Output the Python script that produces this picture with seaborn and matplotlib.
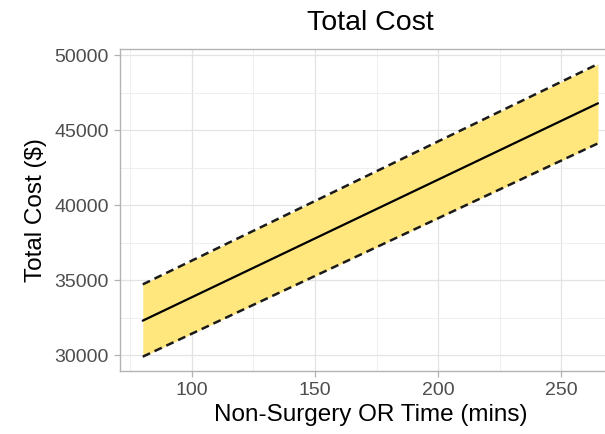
import matplotlib
matplotlib.use("Agg")
import matplotlib.pyplot as plt
from matplotlib.ticker import MultipleLocator
import seaborn as sns
import pandas as pd

# Predicted total cost with its confidence band
or_time = [80, 265]
fit_cost = [32290, 46780]
lower_cost = [29890, 44110]
upper_cost = [34710, 49400]

x_ticks = [100, 150, 200, 250]
y_ticks = [30000, 35000, 40000, 45000, 50000]

df = pd.DataFrame({"time": or_time, "fit": fit_cost,
                   "lower": lower_cost, "upper": upper_cost})

sns.set_theme(style="whitegrid")
plt.rcParams["font.family"] = ["Liberation Sans", "DejaVu Sans"]

fig = plt.figure(figsize=(6.05, 4.34), dpi=100)
ax = fig.add_axes([120 / 605, 62.7 / 434, 500.7 / 605, 321.9 / 434])

ax.fill_between(df["time"], df["lower"], df["upper"],
                color="#FFE77E", linewidth=0, zorder=2)
sns.lineplot(data=df, x="time", y="fit", ax=ax, color="black",
             linewidth=1.6, zorder=4)
for col in ["lower", "upper"]:
    sns.lineplot(data=df, x="time", y=col, ax=ax, color="#1a1a1a",
                 linewidth=1.8, zorder=3)
    ax.lines[-1].set_dashes((3.2, 2.0))

ax.set_xlim(70.75, 274.25)
ax.set_ylim(28915, 50375)
ax.set_xticks(x_ticks)
ax.set_yticks(y_ticks)
ax.xaxis.set_minor_locator(MultipleLocator(25))
ax.yaxis.set_minor_locator(MultipleLocator(2500))

ax.set_facecolor("white")
ax.grid(which="major", color="#E3E3E3", linewidth=0.9, zorder=0)
ax.grid(which="minor", color="#EDEDED", linewidth=0.6, zorder=0)
ax.set_axisbelow(True)
for s in ax.spines.values():
    s.set_visible(True)
    s.set_color("#B3B3B3")
    s.set_linewidth(1.0)

ax.tick_params(axis="both", which="major", direction="out", length=4,
               width=0.9, color="#B3B3B3", labelcolor="#4D4D4D",
               labelsize=14, pad=4, bottom=True, left=True)
ax.tick_params(which="minor", length=0)

ax.set_xlabel("Non-Surgery OR Time (mins)", fontsize=17.5, color="black",
              labelpad=3)
ax.set_ylabel("Total Cost ($)", fontsize=17.5, color="black", labelpad=5)
ax.set_title("Total Cost", fontsize=20.5, color="black", pad=14)

fig.savefig("out.png", dpi=100)
